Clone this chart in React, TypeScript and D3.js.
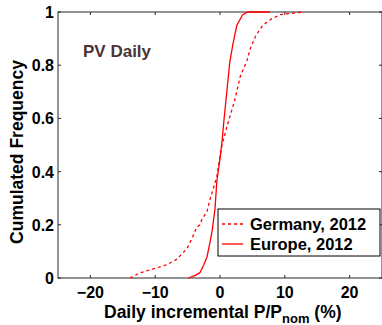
import React, { useEffect, useRef } from 'react';
import * as d3 from 'd3';

// CDF of daily increments
const germanyX = [-13.9, -12.3, -10.3, -8.2, -6.7, -5.1, -4.3, -3.6, -3.1, -2.8, -2.0, -1.5, -1.1, -0.5, 0.3, 1.2, 2.3, 3.1, 4.2, 4.6, 5.5, 6.6, 8.0, 9.3, 12.8];
const germanyY = [0, 0.02, 0.034, 0.05, 0.07, 0.11, 0.15, 0.19, 0.2, 0.22, 0.25, 0.3, 0.33, 0.38, 0.5, 0.58, 0.67, 0.756, 0.82, 0.857, 0.91, 0.95, 0.975, 0.99, 1];
const europeX = [-4.9, -3.8, -3.1, -2.5, -2.0, -1.5, -1.2, -0.77, -0.5, 0.0, 0.3, 0.6, 1.5, 2.0, 2.6, 3.5, 4.3, 7.7];
const europeY = [0, 0.01, 0.02, 0.05, 0.08, 0.14, 0.18, 0.26, 0.36, 0.45, 0.51, 0.59, 0.81, 0.88, 0.95, 0.99, 1, 1];
const xTicks = [-20, -10, 0, 10, 20];
const yTicks = [0, 0.2, 0.4, 0.6, 0.8, 1];
const legendLabels = ['Germany, 2012', 'Europe, 2012'];

const W = 382;
const H = 325;
const font = '"Liberation Sans", Arial, Helvetica, sans-serif';

const App = () => {
  const svgRef = useRef<SVGSVGElement>(null);

  useEffect(() => {
    const root = d3.select(svgRef.current);
    root.selectAll('*').remove();

    const left = 58, top = 12, right = 382, bottom = 278;
    const x = d3.scaleLinear().domain([-25, 25]).range([left, right]);
    const y = d3.scaleLinear().domain([0, 1]).range([bottom, top]);
    const axisColor = '#262626';

    // box
    root.append('rect')
      .attr('x', left).attr('y', top)
      .attr('width', right - left).attr('height', bottom - top)
      .attr('fill', 'none').attr('stroke', axisColor).attr('stroke-width', 1);

    // ticks (inward, both sides)
    xTicks.forEach(t => {
      root.append('line').attr('x1', x(t)).attr('x2', x(t)).attr('y1', bottom).attr('y2', bottom - 3)
        .attr('stroke', axisColor);
      root.append('line').attr('x1', x(t)).attr('x2', x(t)).attr('y1', top).attr('y2', top + 3)
        .attr('stroke', axisColor);
      root.append('text')
        .attr('x', x(t)).attr('y', 298)
        .attr('text-anchor', 'middle')
        .attr('font-family', font).attr('font-weight', 'bold').attr('font-size', 16)
        .text(t < 0 ? `\u2212${Math.abs(t)}` : `${t}`);
    });
    yTicks.forEach(t => {
      root.append('line').attr('x1', left).attr('x2', left + 3).attr('y1', y(t)).attr('y2', y(t))
        .attr('stroke', axisColor);
      root.append('line').attr('x1', right).attr('x2', right - 3).attr('y1', y(t)).attr('y2', y(t))
        .attr('stroke', axisColor);
      root.append('text')
        .attr('x', left - 4).attr('y', y(t) + 6)
        .attr('text-anchor', 'end')
        .attr('font-family', font).attr('font-weight', 'bold').attr('font-size', 16)
        .text(d3.format('~g')(t));
    });

    const line = d3.line<[number, number]>().x(d => x(d[0])).y(d => y(d[1]));
    const germany = germanyX.map((v, i) => [v, germanyY[i]] as [number, number]);
    const europe = europeX.map((v, i) => [v, europeY[i]] as [number, number]);

    root.append('path').attr('d', line(germany)!)
      .attr('fill', 'none').attr('stroke', '#ff0000').attr('stroke-width', 1.3)
      .attr('stroke-dasharray', '3,3');
    root.append('path').attr('d', line(europe)!)
      .attr('fill', 'none').attr('stroke', '#ff0000').attr('stroke-width', 1.3);

    // title inside plot
    root.append('text')
      .attr('x', 83).attr('y', 57)
      .attr('font-family', font).attr('font-weight', 'bold').attr('font-size', 17)
      .attr('fill', '#4d3333')
      .text('PV Daily');

    // axis labels
    root.append('text')
      .attr('transform', `translate(23,152) rotate(-90)`)
      .attr('text-anchor', 'middle')
      .attr('font-family', font).attr('font-weight', 'bold').attr('font-size', 17.5)
      .text('Cumulated Frequency');

    const xl = root.append('text')
      .attr('x', 104).attr('y', 318)
      .attr('font-family', font).attr('font-weight', 'bold').attr('font-size', 17.5);
    xl.append('tspan').text('Daily incremental P/P');
    xl.append('tspan').attr('dy', 5).attr('font-size', 13).text('nom');
    xl.append('tspan').attr('dy', -5).text(' (%)');

    // legend
    const lg = root.append('g');
    lg.append('rect')
      .attr('x', 218).attr('y', 209).attr('width', 162).attr('height', 47)
      .attr('fill', '#fff').attr('stroke', '#000').attr('stroke-width', 1);
    legendLabels.forEach((lab, i) => {
      const ly = 224 + i * 20;
      lg.append('line')
        .attr('x1', 222).attr('x2', 243).attr('y1', ly).attr('y2', ly)
        .attr('stroke', '#ff0000').attr('stroke-width', 1.3)
        .attr('stroke-dasharray', i === 0 ? '3,3' : null);
      lg.append('text')
        .attr('x', 250).attr('y', ly + 6)
        .attr('font-family', font).attr('font-weight', 'bold').attr('font-size', 16.5)
        .text(lab);
    });
  }, []);

  return (
    <svg ref={svgRef} width={W} height={H}
      style={{ position: 'absolute', left: 0, top: 0, background: '#fff' }} />
  );
};

export default App;
